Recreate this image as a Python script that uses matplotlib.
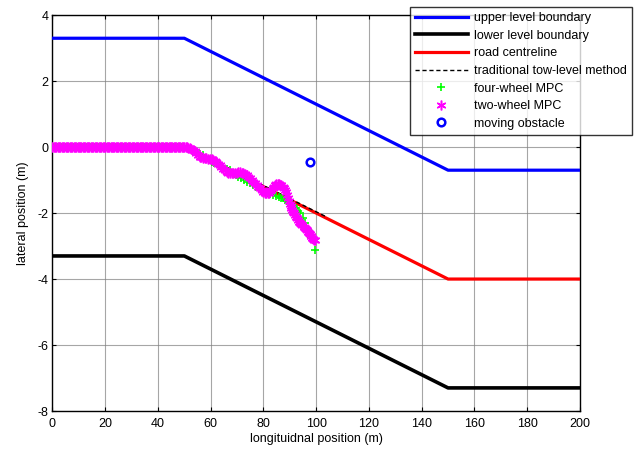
import matplotlib
matplotlib.use("Agg")
import matplotlib.pyplot as plt

plt.rcParams['font.family'] = ['Liberation Sans', 'DejaVu Sans']
plt.rcParams['axes.unicode_minus'] = False

# boundaries / centreline
bound_x = [0, 50, 150, 200]
upper_y = [3.3, 3.3, -0.7, -0.7]
lower_y = [-3.3, -3.3, -7.3, -7.3]
centre_y = [0, 0, -4, -4]

trad_x = [0, 50, 104]
trad_y = [0.03, 0.03, -2.12]

flat_x = [0, 0.5, 1, 1.5, 2, 2.5, 3, 3.5, 4, 4.5, 5, 5.5, 6, 6.5, 7, 7.5, 8, 8.5, 9, 9.5,
          10, 10.5, 11, 11.5, 12, 12.5, 13, 13.5, 14, 14.5, 15, 15.5, 16, 16.5, 17, 17.5,
          18, 18.5, 19, 19.5, 20, 20.5, 21, 21.5, 22, 22.5, 23, 23.5, 24, 24.5, 25, 25.5,
          26, 26.5, 27, 27.5, 28, 28.5, 29, 29.5, 30, 30.5, 31, 31.5, 32, 32.5, 33, 33.5,
          34, 34.5, 35, 35.5, 36, 36.5, 37, 37.5, 38, 38.5, 39, 39.5, 40, 40.5, 41, 41.5,
          42, 42.5, 43, 43.5, 44, 44.5, 45, 45.5, 46, 46.5, 47, 47.5, 48, 48.5, 49, 49.5, 50]

four_x = flat_x + [51, 52, 53.2, 54.5, 55.8, 57.1, 58.4, 59.4, 60.3, 61.2, 62.2, 63.5,
                   64.8, 66.0, 67.2, 68.3, 69.4, 70.4, 71.5, 72.6, 73.6, 74.8, 76.0,
                   77.3, 78.4, 79.5, 80.5, 81.5, 82.6, 83.6, 84.7, 85.8, 86.8, 87.4,
                   88.2, 89.0, 89.8, 90.6, 91.5, 92.5, 93.2, 93.8, 95.0, 95.6, 96.3,
                   96.9, 97.6, 98.2, 98.8, 99.4]
four_y = [0.0] * len(flat_x) + [-0.02, -0.06, -0.11, -0.16, -0.20, -0.24, -0.33, -0.40,
                                -0.45, -0.47, -0.49, -0.55, -0.62, -0.67, -0.70, -0.77,
                                -0.84, -0.90, -0.95, -1.00, -1.05, -1.10, -1.15, -1.20,
                                -1.25, -1.30, -1.35, -1.39, -1.42, -1.45, -1.48, -1.52,
                                -1.55, -1.55, -1.60, -1.63, -1.67, -1.71, -1.78, -1.86,
                                -1.93, -2.01, -2.16, -2.31, -2.41, -2.52, -2.62, -2.72,
                                -2.82, -3.12]

two_x = flat_x + [50.5, 51, 51.5, 52, 52.6, 53.3, 53.9, 54.5, 55.2, 55.9, 56.5, 57.0,
                  57.7, 58.4, 59.0, 59.7, 60.3, 60.9, 61.5, 62.0, 62.7, 63.4, 64.0,
                  64.7, 65.3, 66.0, 66.6, 67.2, 67.9, 68.5, 69.2, 69.8, 70.4, 71.0,
                  71.7, 72.3, 73.0, 73.6, 74.2, 74.8, 75.5, 76.1, 76.8, 77.4, 78.0,
                  78.6, 79.3, 79.9, 80.5, 81.1, 81.6, 82.0, 82.5, 83.0, 83.5, 84.0,
                  84.5, 84.9, 85.4, 85.9, 86.4, 86.8, 87.3, 87.8, 88.3, 88.7, 89.1,
                  89.4, 89.7, 90.0, 90.3, 90.6, 90.9, 91.2, 91.6, 91.9, 92.3, 92.6,
                  93.0, 93.4, 93.9, 94.3, 94.8, 95.2, 95.6, 96.0, 96.4, 96.8, 97.1,
                  97.5, 97.9, 98.2, 98.5, 98.8, 99.1, 99.4]
two_y = [0.0] * len(flat_x) + [-0.00, -0.01, -0.02, -0.04, -0.06, -0.09, -0.13, -0.18,
                               -0.24, -0.29, -0.31, -0.32, -0.33, -0.34, -0.35, -0.36,
                               -0.37, -0.39, -0.42, -0.46, -0.50, -0.55, -0.60, -0.65,
                               -0.70, -0.75, -0.77, -0.78, -0.79, -0.80, -0.79, -0.78,
                               -0.76, -0.75, -0.77, -0.79, -0.82, -0.85, -0.90, -0.95,
                               -1.00, -1.05, -1.10, -1.15, -1.20, -1.25, -1.30, -1.35,
                               -1.38, -1.40, -1.40, -1.38, -1.34, -1.30, -1.25, -1.20,
                               -1.16, -1.13, -1.12, -1.12, -1.14, -1.16, -1.20, -1.24,
                               -1.29, -1.35, -1.45, -1.55, -1.64, -1.72, -1.79, -1.85,
                               -1.91, -1.96, -2.01, -2.06, -2.11, -2.16, -2.21, -2.26,
                               -2.30, -2.33, -2.37, -2.41, -2.44, -2.48, -2.52, -2.56,
                               -2.60, -2.64, -2.68, -2.71, -2.75, -2.78, -2.81, -2.83]

obs_x = [97.8]
obs_y = [-0.45]

fig = plt.figure(figsize=(6.44, 4.55), dpi=100)
ax = fig.add_axes([0.0815, 0.0967, 0.819, 0.870])

ax.plot(bound_x, upper_y, color='#0000ff', lw=2.3, label='upper level boundary', zorder=3)
ax.plot(bound_x, lower_y, color='black', lw=2.6, label='lower level boundary', zorder=3)
ax.plot(bound_x, centre_y, color='#ff0000', lw=2.3, label='road centreline', zorder=3)
ax.plot(trad_x, trad_y, color='black', lw=1.0, ls=(0, (3, 2)),
        label='traditional tow-level method', zorder=4)
ax.plot(four_x, four_y, ls='none', marker='+', ms=6, mew=1.2, color='#00ff00',
        label='four-wheel MPC', zorder=5)
ax.plot(two_x, two_y, ls='none', marker=(6, 2, 0), ms=7, mew=1.1, color='#ff00ff',
        mec='#ff00ff', label='two-wheel MPC', zorder=6)
ax.plot(obs_x, obs_y, ls='none', marker='o', ms=5.5, mew=1.8, mfc='none', mec='#0000ff',
        label='moving obstacle', zorder=7)

ax.set_xlim(0, 200)
ax.set_ylim(-8, 4)
ax.set_xticks(range(0, 201, 20))
ax.set_yticks(range(-8, 5, 2))
ax.grid(True, color='#808080', lw=0.8, alpha=0.7)
ax.set_axisbelow(True)
ax.tick_params(direction='in', length=3, labelsize=9, top=True, right=True)
ax.tick_params(axis='x', pad=5)
ax.tick_params(axis='y', pad=3)
for s in ax.spines.values():
    s.set_linewidth(1.0)
ax.set_xlabel('longituidnal position (m)', fontsize=9, labelpad=2)
ax.set_ylabel('lateral position (m)', fontsize=9, labelpad=6)

leg = fig.legend(loc='upper left', bbox_to_anchor=(410 / 644, 1 - 7 / 455),
                 fontsize=9, frameon=True, fancybox=False, edgecolor='black',
                 handlelength=4.2, handletextpad=0.5, labelspacing=0.45,
                 borderpad=0.4, borderaxespad=0)
leg.get_frame().set_linewidth(1.0)

fig.savefig('out.png', dpi=100)
